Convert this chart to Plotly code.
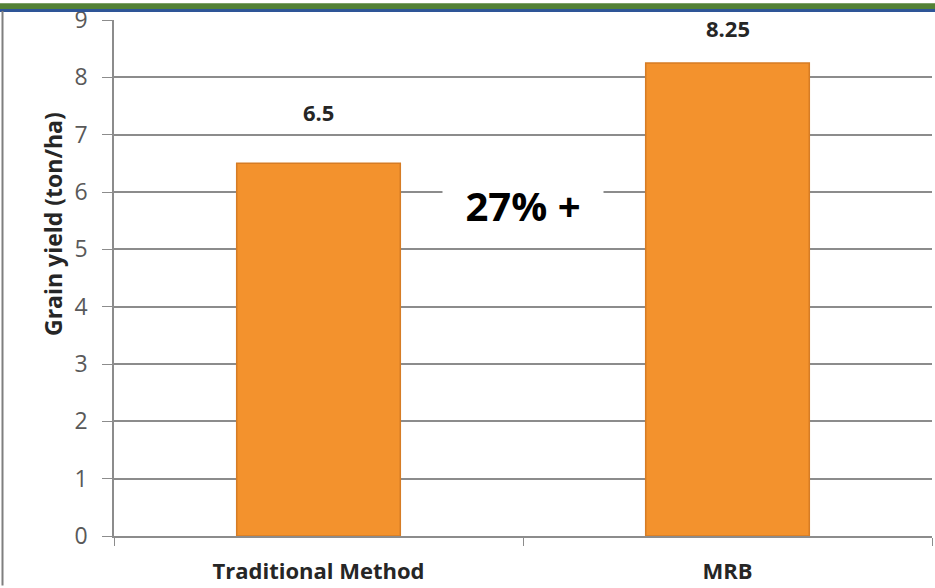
import plotly.graph_objects as go

categories = ["Traditional Method", "MRB"]
yields = [6.5, 8.25]
value_labels = ["6.5", "8.25"]
label_shift = [34, 18]
y_ticks = [0, 1, 2, 3, 4, 5, 6, 7, 8, 9]
increase_text = "27% +"

W, H = 935, 588
ml, mr, mt, mb = 114, 3, 17, 50
pw, ph = W - ml - mr, H - mt - mb

def px(x):
    return (x - ml) / pw

def py(y):
    return (H - mb - y) / ph

fig = go.Figure()
fig.add_trace(go.Bar(
    x=categories, y=yields,
    marker=dict(color="#F3922D", line=dict(color="#D67C25", width=1.5)),
    width=0.4, hoverinfo="skip",
))

annotations = []
for c, v, t, s in zip(categories, yields, value_labels, label_shift):
    annotations.append(dict(x=c, y=v, text="<b>" + t + "</b>", showarrow=False, yanchor="bottom",
                            yshift=s, font=dict(family="Open Sans", size=22, color="#262626"),
                            xref="x", yref="y"))
annotations.append(dict(x=0.5, y=5.78, text="<b>" + increase_text + "</b>", showarrow=False,
                        xref="x", yref="y", bgcolor="white", width=158, height=42,
                        font=dict(family="Open Sans", size=40, color="black")))
annotations.append(dict(x=px(35), y=py(223), xref="paper", yref="paper", textangle=-90,
                        text="<b>Grain yield (ton/ha)</b>", showarrow=False,
                        font=dict(family="Open Sans", size=23, color="#262626")))

shapes = [
    dict(type="rect", xref="paper", yref="paper", x0=px(0), x1=px(W), y0=py(7), y1=py(0),
         fillcolor="#538135", line=dict(width=0), layer="above"),
    dict(type="rect", xref="paper", yref="paper", x0=px(0), x1=px(W), y0=py(9), y1=py(6),
         fillcolor="#2E5597", line=dict(width=0), layer="above"),
    dict(type="line", xref="paper", yref="paper", x0=px(2.5), x1=px(2.5), y0=py(H), y1=py(8),
         line=dict(color="#7F7F7F", width=2)),
]

fig.update_layout(
    width=W, height=H,
    margin=dict(l=ml, r=mr, t=mt, b=mb, pad=0),
    paper_bgcolor="white", plot_bgcolor="white",
    showlegend=False,
    annotations=annotations,
    shapes=shapes,
    bargap=0.6,
    xaxis=dict(
        type="category", tickson="boundaries", ticks="outside", ticklen=8,
        tickcolor="#8C8C8C", showline=True, linecolor="#8C8C8C", linewidth=1.5,
        showgrid=False, tickfont=dict(family="Open Sans", size=22, color="#262626"),
        tickprefix="<b>", ticksuffix="</b>", range=[-0.5, 1.5], ticklabelstandoff=15,
    ),
    yaxis=dict(
        range=[0, 9], tickvals=y_ticks, ticks="outside", ticklen=10,
        tickcolor="#8C8C8C", showline=True, linecolor="#8C8C8C", linewidth=1.5,
        gridcolor="#8C8C8C", gridwidth=1.5, zeroline=False,
        tickfont=dict(family="Open Sans", size=23, color="#595959"),
        ticklabelstandoff=10,
    ),
)

fig.write_html("out.html")
